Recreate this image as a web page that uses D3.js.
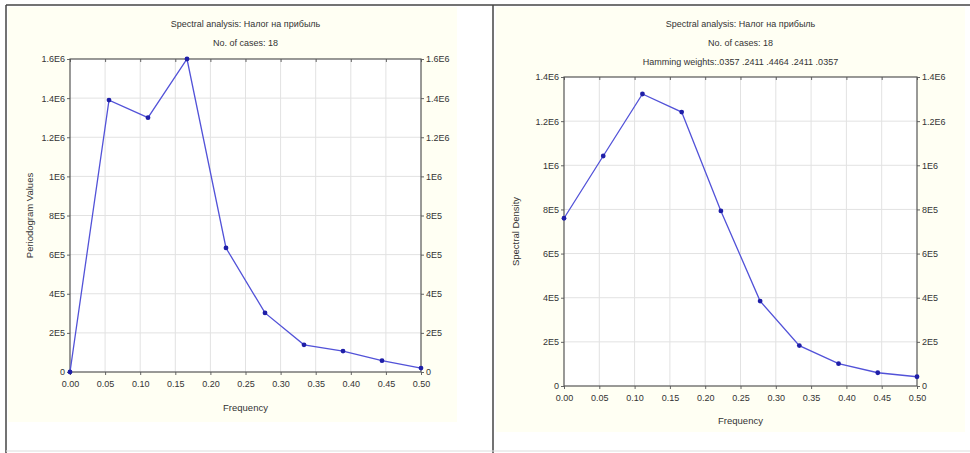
<!DOCTYPE html>
<html>
<head>
<meta charset="utf-8">
<script src="https://cdn.jsdelivr.net/npm/d3@7"></script>
<style>
  body { margin: 0; background: #fff; }
  text { font-family: "Liberation Sans", Arial, sans-serif; fill: #333; }
</style>
</head>
<body>
<div id="chart"></div>
<script>
// Data
const freq = [0, 1 / 18, 2 / 18, 3 / 18, 4 / 18, 5 / 18, 6 / 18, 7 / 18, 8 / 18, 9 / 18];
const periodogram = [0, 1390000, 1300000, 1600000, 634000, 302000, 139000, 107000, 58000, 20000];
const density = [760000, 1042000, 1323000, 1241000, 793000, 385000, 183000, 101000, 60000, 42000];

const xTicks = [0, 0.05, 0.1, 0.15, 0.2, 0.25, 0.3, 0.35, 0.4, 0.45, 0.5];
const yTicksLeft = [0, 200000, 400000, 600000, 800000, 1000000, 1200000, 1400000, 1600000];
const yLabelsLeft = ["0", "2E5", "4E5", "6E5", "8E5", "1E6", "1.2E6", "1.4E6", "1.6E6"];
const yTicksRight = [0, 200000, 400000, 600000, 800000, 1000000, 1200000, 1400000];
const yLabelsRight = ["0", "2E5", "4E5", "6E5", "8E5", "1E6", "1.2E6", "1.4E6"];

const titlesLeft = ["Spectral analysis: Налог на прибыль", "No. of cases: 18"];
const titlesRight = ["Spectral analysis: Налог на прибыль", "No. of cases: 18",
  "Hamming weights:.0357 .2411 .4464 .2411 .0357"];

const svg = d3.select("#chart")
  .append("svg")
  .attr("width", 970)
  .attr("height", 453);

// Outer frame
svg.append("rect").attr("x", 0).attr("y", 0).attr("width", 970).attr("height", 453).attr("fill", "#fff");

function drawPanel(p) {
  // cream background
  svg.append("rect")
    .attr("x", p.bg[0]).attr("y", p.bg[1])
    .attr("width", p.bg[2]).attr("height", p.bg[3])
    .attr("fill", "#fffff3");

  const x = d3.scaleLinear().domain([0, 0.5]).range([p.left, p.right]);
  const y = d3.scaleLinear().domain([0, p.ymax]).range([p.bottom, p.top]);

  const g = svg.append("g");

  // plot area
  g.append("rect")
    .attr("x", p.left).attr("y", p.top)
    .attr("width", p.right - p.left).attr("height", p.bottom - p.top)
    .attr("fill", "#fff");

  // grid lines
  g.selectAll(".vgrid")
    .data(xTicks.slice(1, -1))
    .enter()
    .append("line")
    .attr("x1", (d) => x(d)).attr("x2", (d) => x(d))
    .attr("y1", p.top).attr("y2", p.bottom)
    .attr("stroke", "#e2e2e2");

  g.selectAll(".hgrid")
    .data(p.yTicks.slice(1, -1))
    .enter()
    .append("line")
    .attr("x1", p.left).attr("x2", p.right)
    .attr("y1", (d) => y(d)).attr("y2", (d) => y(d))
    .attr("stroke", "#e2e2e2");

  // axes
  const fmt = (d) => p.yLabels[p.yTicks.indexOf(d)];
  const axisStyle = (sel) => {
    sel.select(".domain").remove();
    sel.selectAll("line").attr("stroke", "#666");
    sel.selectAll("text").style("font-size", "9px").style("font-family", "Liberation Sans, Arial, sans-serif").attr("fill", "#333");
  };

  g.append("g")
    .attr("transform", "translate(" + p.left + ",0)")
    .call(d3.axisLeft(y).tickValues(p.yTicks).tickFormat(fmt).tickSize(3).tickPadding(2))
    .call(axisStyle);

  g.append("g")
    .attr("transform", "translate(" + p.right + ",0)")
    .call(d3.axisRight(y).tickValues(p.yTicks).tickFormat(fmt).tickSize(3).tickPadding(2))
    .call(axisStyle);

  g.append("g")
    .attr("transform", "translate(0," + p.bottom + ")")
    .call(d3.axisBottom(x).tickValues(xTicks).tickFormat(d3.format(".2f")).tickSize(3).tickPadding(6))
    .call(axisStyle);

  g.append("g")
    .attr("transform", "translate(0," + p.top + ")")
    .call(d3.axisBottom(x).tickValues(xTicks).tickFormat("").tickSize(3))
    .call(axisStyle);

  // frame of plot area
  g.append("rect")
    .attr("x", p.left).attr("y", p.top)
    .attr("width", p.right - p.left).attr("height", p.bottom - p.top)
    .attr("fill", "none")
    .attr("stroke", "#555")
    .attr("stroke-width", 1.2);

  // the series
  const line = d3.line()
    .x((d, i) => x(freq[i]))
    .y((d) => y(d));

  g.append("path")
    .datum(p.values)
    .attr("d", line)
    .attr("fill", "none")
    .attr("stroke", "#5252d8")
    .attr("stroke-width", 1.3);

  g.selectAll(".pt")
    .data(p.values)
    .enter()
    .append("circle")
    .attr("cx", (d, i) => x(freq[i]))
    .attr("cy", (d) => y(d))
    .attr("r", 2.4)
    .attr("fill", "#1f1fa8");

  // titles
  const cx = (p.left + p.right) / 2;
  g.selectAll(".title")
    .data(p.titles)
    .enter()
    .append("text")
    .attr("x", cx)
    .attr("y", (d, i) => 27 + i * 19)
    .attr("text-anchor", "middle")
    .style("font-size", "9px")
    .text((d) => d);

  // x label
  g.append("text")
    .attr("x", cx)
    .attr("y", p.xlabY)
    .attr("text-anchor", "middle")
    .style("font-size", "9.5px")
    .text("Frequency");

  // y label
  g.append("text")
    .attr("transform", "translate(" + p.ylabX + "," + (p.top + p.bottom) / 2 + ") rotate(-90)")
    .attr("text-anchor", "middle")
    .style("font-size", "9.5px")
    .text(p.ylab);
}

drawPanel({
  bg: [8, 7, 449, 415],
  left: 70, right: 421, top: 59, bottom: 372,
  ymax: 1600000, yTicks: yTicksLeft, yLabels: yLabelsLeft,
  values: periodogram, titles: titlesLeft,
  xlabY: 411, ylabX: 33, ylab: "Periodogram Values"
});

drawPanel({
  bg: [496, 7, 469, 425],
  left: 564, right: 917, top: 77, bottom: 386,
  ymax: 1400000, yTicks: yTicksRight, yLabels: yLabelsRight,
  values: density, titles: titlesRight,
  xlabY: 424, ylabX: 519, ylab: "Spectral Density"
});

// table frame
svg.append("line").attr("x1", 6).attr("x2", 970).attr("y1", 5).attr("y2", 5).attr("stroke", "#444").attr("stroke-width", 1.5);
svg.append("line").attr("x1", 6).attr("x2", 6).attr("y1", 5).attr("y2", 453).attr("stroke", "#444").attr("stroke-width", 1.5);
svg.append("line").attr("x1", 493).attr("x2", 493).attr("y1", 5).attr("y2", 453).attr("stroke", "#444").attr("stroke-width", 1.5);
svg.append("line").attr("x1", 6).attr("x2", 970).attr("y1", 451).attr("y2", 451).attr("stroke", "#ddd").attr("stroke-width", 1);
</script>
</body>
</html>
